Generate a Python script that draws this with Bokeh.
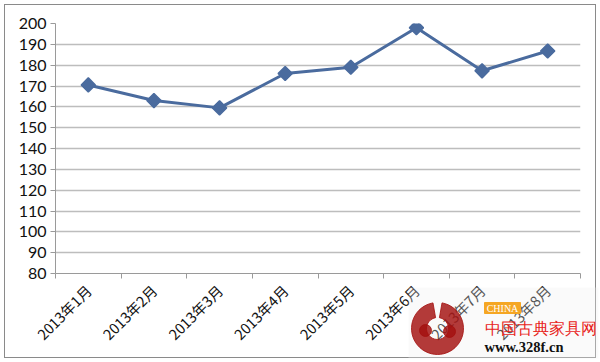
from bokeh.plotting import figure
from bokeh.models import FixedTicker, Range1d, GridBox, Column
from bokeh.embed import file_html
from bokeh.resources import INLINE
import math

months = ["2013年1月", "2013年2月", "2013年3月", "2013年4月",
          "2013年5月", "2013年6月", "2013年7月", "2013年8月"]
values = [170.5, 163.0, 159.5, 176.0, 179.0, 198.0, 177.3, 186.8]
y_ticks = list(range(80, 201, 10))

# watermark texts
wm_china = "CHINA"
wm_name = "中国古典家具网"
wm_url = "www.328f.cn"

xs = [i + 0.5 for i in range(len(months))]

p = figure(width=592, height=354, output_backend="svg", toolbar_location=None,
           x_range=Range1d(0, len(months)), y_range=Range1d(80, 200),
           min_border_left=50, min_border_right=17, min_border_top=18, min_border_bottom=86,
           styles={"margin": "4px", "border": "1px solid #8a8a8a", "box-sizing": "border-box"})
p.outline_line_color = None
p.background_fill_color = "white"

# y axis
p.yaxis.ticker = FixedTicker(ticks=y_ticks)
p.yaxis.axis_line_color = "#9a9a9a"
p.yaxis.major_tick_line_color = "#9a9a9a"
p.yaxis.major_tick_out = 5
p.yaxis.major_tick_in = 0
p.yaxis.minor_tick_line_color = None
p.yaxis.major_label_text_font = "Lato"
p.yaxis.major_label_text_font_size = "16px"
p.yaxis.major_label_text_color = "#111111"
p.yaxis.major_label_standoff = 4

# x axis: labels at category centres, ticks at boundaries
p.xaxis.ticker = FixedTicker(ticks=xs, minor_ticks=list(range(len(months) + 1)))
p.xaxis.major_label_overrides = {x: m for x, m in zip(xs, months)}
p.xaxis.major_tick_line_color = None
p.xaxis.minor_tick_line_color = "#9a9a9a"
p.xaxis.minor_tick_out = 5
p.xaxis.minor_tick_in = 0
p.xaxis.axis_line_color = "#9a9a9a"
p.xaxis.major_label_orientation = math.pi / 4
p.xaxis.major_label_text_font = "Noto Sans CJK SC"
p.xaxis.major_label_text_font_size = "14.5px"
p.xaxis.major_label_text_color = "#111111"
p.xaxis.major_label_standoff = 8

p.xgrid.grid_line_color = None
p.ygrid.ticker = FixedTicker(ticks=y_ticks)
p.ygrid.grid_line_color = "#bdbdbd"
p.ygrid.grid_line_width = 1.5

color = "#4a6b9e"
p.line(xs, values, line_color=color, line_width=3)
p.scatter(xs, values, marker="square", angle=math.pi / 4, size=10,
          fill_color=color, line_color=color, line_width=1.5)

# transparent overlay figure for the watermark (page pixel coordinates)
W, H = 600, 362
w = figure(width=W, height=H, output_backend="svg", toolbar_location=None,
           x_range=Range1d(0, W), y_range=Range1d(0, H), min_border=0)
w.axis.visible = False
w.grid.grid_line_color = None
w.outline_line_color = None
w.background_fill_color = None
w.border_fill_color = None


def py(v):
    return H - v


red = "#a3100f"
w.quad(left=408, right=598, bottom=py(358), top=py(287), fill_color="#eeeeee",
       fill_alpha=0.3, line_color=None)
w.annular_wedge(x=437, y=py(328), inner_radius=11, outer_radius=26,
                start_angle=math.radians(100), end_angle=math.radians(80),
                color=red, alpha=0.82)
w.circle(x=[425, 449], y=[py(330), py(331)], radius=6, color=red, alpha=0.82)
w.rect(x=502, y=py(307.5), width=36, height=11, color="#f5a623")
w.text(x=502, y=py(307.5), text=[wm_china], text_align="center", text_baseline="middle",
       text_color="white", text_font_size="10px", text_font="Liberation Sans")
w.text(x=484, y=py(328), text=[wm_name], text_align="left", text_baseline="alphabetic",
       text_color="#e8231b", text_font_size="16px", text_font="Noto Sans CJK SC")
w.text(x=484, y=py(346), text=[wm_url], text_align="left", text_baseline="alphabetic",
       text_color="#111111", text_font_size="14.5px", text_font="DejaVu Sans Mono",
       text_font_style="bold")

layout = GridBox(children=[(Column(children=[p]), 0, 0), (Column(children=[w]), 0, 0)])
open("out.html", "w").write(file_html(layout, INLINE))
